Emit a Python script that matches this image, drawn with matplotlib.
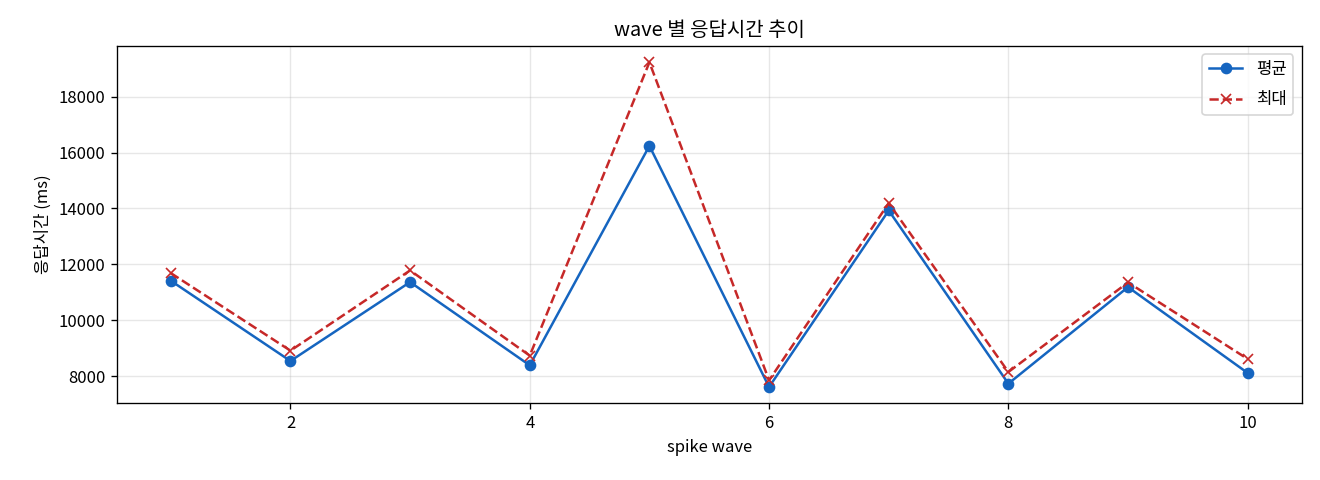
import matplotlib
matplotlib.use("Agg")
import matplotlib.pyplot as plt

plt.rcParams['font.family'] = ['Noto Sans CJK KR', 'DejaVu Sans']
plt.rcParams['axes.unicode_minus'] = False

waves = [1, 2, 3, 4, 5, 6, 7, 8, 9, 10]
mean_ms = [11417, 8548, 11369, 8393, 16238, 7619, 13929, 7738, 11190, 8119]
max_ms = [11690, 8917, 11786, 8738, 19226, 7857, 14190, 8155, 11357, 8619]

fig, ax = plt.subplots(figsize=(11, 4), dpi=120)
ax.plot(waves, mean_ms, marker='o', color='#1565C0', label='평균')
ax.plot(waves, max_ms, marker='x', linestyle='--', color='#C62828', label='최대')
ax.set_title('wave 별 응답시간 추이')
ax.set_xlabel('spike wave')
ax.set_ylabel('응답시간 (ms)')
ax.grid(True, alpha=0.3)
ax.legend(loc='upper right', labelspacing=0.8)
fig.subplots_adjust(left=0.0886, right=0.986, top=0.904, bottom=0.160)
fig.savefig('out.png')
